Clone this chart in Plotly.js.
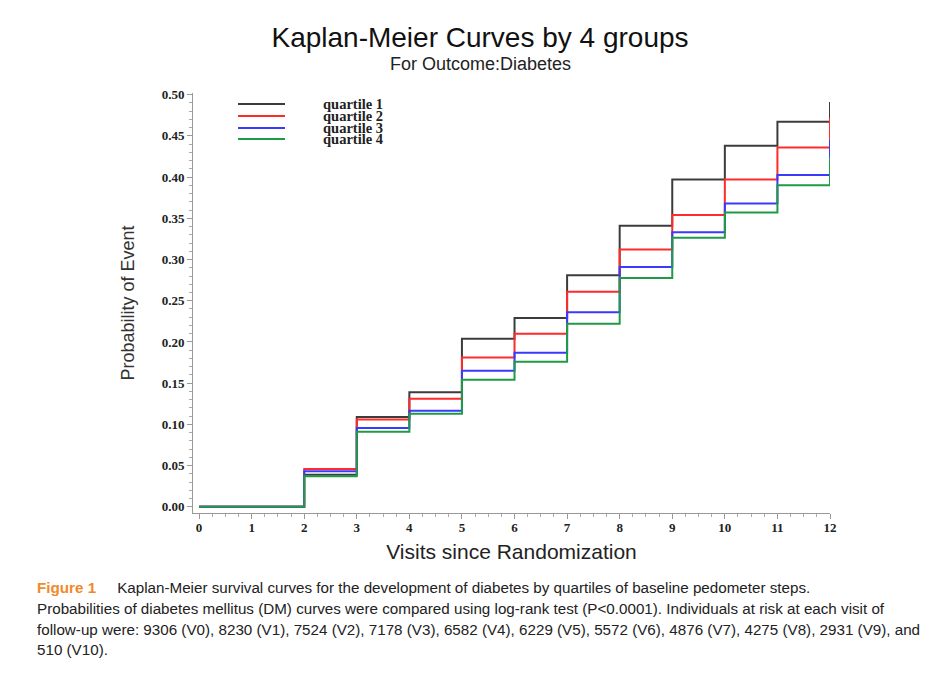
<!DOCTYPE html>
<html>
<head>
<meta charset="utf-8">
<script src="https://cdn.plot.ly/plotly-3.0.1.min.js"></script>
<style>html,body{margin:0;padding:0;background:#fff;}#chart{width:943px;height:677px;}</style>
</head>
<body>
<div id="chart"></div>
<script>
// ---- data ----
const visits = [0, 1, 2, 3, 4, 5, 6, 7, 8, 9, 10, 11, 12];
const seriesNames = ["quartile 1", "quartile 2", "quartile 3", "quartile 4"];
const seriesColors = ["#3c3c3c", "#ff2a2a", "#3a3aff", "#1f9a45"];
const quartile1 = [0, 0, 0.039, 0.109, 0.139, 0.204, 0.229, 0.281, 0.341, 0.397, 0.438, 0.467, 0.491];
const quartile2 = [0, 0, 0.046, 0.106, 0.131, 0.181, 0.210, 0.261, 0.312, 0.354, 0.397, 0.436, 0.472];
const quartile3 = [0, 0, 0.043, 0.0955, 0.1165, 0.165, 0.187, 0.236, 0.291, 0.333, 0.368, 0.4025, 0.445];
const quartile4 = [0, 0, 0.037, 0.091, 0.113, 0.154, 0.176, 0.222, 0.2775, 0.3265, 0.357, 0.390, 0.424];
const yTickVals = [0, 0.05, 0.10, 0.15, 0.20, 0.25, 0.30, 0.35, 0.40, 0.45, 0.50];
const xTickVals = [0, 1, 2, 3, 4, 5, 6, 7, 8, 9, 10, 11, 12];
const captionLines = [
  '<b><span style="color:#f0892a">Figure 1</span></b>     Kaplan-Meier survival curves for the development of diabetes by quartiles of baseline pedometer steps.',
  'Probabilities of diabetes mellitus (DM) curves were compared using log-rank test (P<0.0001). Individuals at risk at each visit of',
  'follow-up were: 9306 (V0), 8230 (V1), 7524 (V2), 7178 (V3), 6582 (V4), 6229 (V5), 5572 (V6), 4876 (V7), 4275 (V8), 2931 (V9), and',
  '510 (V10).'
];
// ---------------

const W = 943, H = 677;
const M = {l: 193, r: 113, t: 93, b: 164};
const pw = W - M.l - M.r, ph = H - M.t - M.b;
const px2x = p => (p - M.l) / pw;
const px2y = p => (H - M.b - p) / ph;

const allSeries = [quartile1, quartile2, quartile3, quartile4];
const traces = allSeries.map((ys, i) => ({
  type: 'scatter', mode: 'lines', x: visits, y: ys, name: seriesNames[i],
  line: {shape: 'hv', color: seriesColors[i], width: 2},
  cliponaxis: false, showlegend: false, hoverinfo: 'x+y+name'
}));

const shapes = [];
const annotations = [];
// custom compact legend (matches the tight SAS legend)
const legRowY = [104, 116, 128, 139];
seriesNames.forEach((n, i) => {
  shapes.push({type: 'line', xref: 'paper', yref: 'paper',
    x0: px2x(238), x1: px2x(285), y0: px2y(legRowY[i]), y1: px2y(legRowY[i]),
    line: {color: seriesColors[i], width: 2}});
  annotations.push({xref: 'paper', yref: 'paper', x: px2x(321), y: px2y(legRowY[i]),
    xanchor: 'left', yanchor: 'middle', showarrow: false, text: n,
    font: {family: 'Liberation Serif', size: 14.5, color: '#222', weight: 'bold'}});
});
// subtitle
annotations.push({xref: 'paper', yref: 'paper', x: px2x(480), y: px2y(64), xanchor: 'center', yanchor: 'middle',
  showarrow: false, text: 'For Outcome:Diabetes', font: {family: 'Liberation Sans', size: 18, color: '#222'}});
// caption
const capY = [587, 608, 629, 649];
captionLines.forEach((t, i) => {
  annotations.push({xref: 'paper', yref: 'paper', x: px2x(35), y: px2y(capY[i]), xanchor: 'left', yanchor: 'middle',
    showarrow: false, align: 'left', text: t, font: {family: 'Liberation Sans', size: 15.2, color: '#222'}});
});

const tickFont = {family: 'Liberation Serif', size: 13, color: '#222', weight: 'bold'};
const layout = {
  width: W, height: H,
  margin: M,
  paper_bgcolor: '#fff', plot_bgcolor: '#fff',
  showlegend: false,
  title: {text: 'Kaplan-Meier Curves by 4 groups', xref: 'container', x: 480 / W, xanchor: 'center',
    yref: 'container', y: 1 - 37 / H, yanchor: 'middle',
    font: {family: 'Liberation Sans', size: 28, color: '#111'}},
  xaxis: {
    range: [-0.115, 12.0], tickvals: xTickVals, ticktext: xTickVals.map(String),
    showgrid: false, zeroline: false, showline: true, linecolor: '#999', linewidth: 1,
    ticks: 'outside', ticklen: 5, tickcolor: '#999', tickfont: tickFont, ticklabelstandoff: -3,
    minor: {dtick: 0.25, ticks: 'outside', ticklen: 3, tickcolor: '#aaa', showgrid: false},
    title: {text: 'Visits since Randomization', standoff: 10, font: {family: 'Liberation Sans', size: 21, color: '#222'}}
  },
  yaxis: {
    range: [-0.0075, 0.502], tickvals: yTickVals, ticktext: yTickVals.map(v => v.toFixed(2)),
    showgrid: false, zeroline: false, showline: true, linecolor: '#999', linewidth: 1,
    ticks: 'outside', ticklen: 5, tickcolor: '#999', tickfont: tickFont,
    minor: {dtick: 0.01, ticks: 'outside', ticklen: 3, tickcolor: '#aaa', showgrid: false},
    title: {text: 'Probability of Event', standoff: 22, font: {family: 'Liberation Sans', size: 18, color: '#333'}}
  },
  shapes: shapes,
  annotations: annotations
};
Plotly.newPlot('chart', traces, layout, {displayModeBar: false, staticPlot: true});
</script>
</body>
</html>
